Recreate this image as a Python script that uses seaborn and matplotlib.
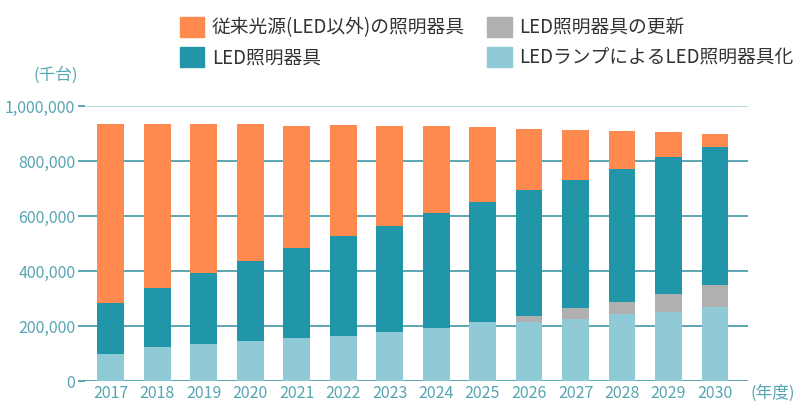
import numpy as np
import matplotlib
matplotlib.use("Agg")
import matplotlib.pyplot as plt
import matplotlib.patches as mpatches
import seaborn as sns

# data (thousand units)
years = ["2017", "2018", "2019", "2020", "2021", "2022", "2023",
         "2024", "2025", "2026", "2027", "2028", "2029", "2030"]
led_lamp = [99, 124, 136, 145, 158, 164, 179, 191, 213, 216, 224, 244, 252, 270]
led_update = [0, 0, 0, 0, 0, 0, 0, 0, 3, 21, 40, 44, 64, 78]
led_fixture = [186, 215, 258, 291, 326, 363, 385, 419, 436, 457, 467, 484, 497, 502]
conventional = [650, 596, 541, 499, 443, 405, 363, 318, 273, 224, 182, 137, 91, 50]

labels = ["従来光源(LED以外)の照明器具", "LED照明器具",
          "LED照明器具の更新", "LEDランプによるLED照明器具化"]
colors = ["#FF8A50", "#2196A8", "#B0B0B0", "#8FCAD6"]
y_ticks = [0, 200000, 400000, 600000, 800000, 1000000]

sns.set_theme(style="white")
plt.rcParams["font.family"] = ["Noto Sans CJK JP", "DejaVu Sans"]

teal_text = "#55A5B2"
grid_col = "#3D97A5"

fig = plt.figure(figsize=(7.97, 4.03), dpi=100)
ax = fig.add_axes([85 / 797, 1 - 381 / 403, (748 - 85) / 797, (381 - 106) / 403])

# stack order bottom -> top
series = [
    (np.array(led_lamp) * 1000, colors[3]),
    (np.array(led_update) * 1000, colors[2]),
    (np.array(led_fixture) * 1000, colors[1]),
    (np.array(conventional) * 1000, colors[0]),
]
bottom = np.zeros(len(years))
for vals, col in series:
    sns.barplot(x=years, y=vals, bottom=bottom, color=col, width=0.58,
                saturation=1, linewidth=0, ax=ax, zorder=3)
    bottom = bottom + vals

ax.set_ylim(0, 1000000)
ax.set_xlim(-0.55, 13.71)
ax.set_yticks(y_ticks)
ax.set_yticklabels([f"{v:,}" for v in y_ticks])
ax.yaxis.grid(True, color=grid_col, linewidth=1.2, zorder=0)
ax.get_ygridlines()[-1].set_color("#A6D3DA")
ax.set_axisbelow(True)
for s in ax.spines.values():
    s.set_visible(False)
ax.tick_params(axis="y", length=5, width=1.2, color=grid_col, colors=teal_text,
               labelsize=11.5, pad=2, left=True)
ax.tick_params(axis="y", color=grid_col)
ax.tick_params(axis="x", length=0, colors=teal_text, labelsize=11.5, pad=3)
ax.set_xlabel("")
ax.set_ylabel("")

fig.text(56 / 797, 1 - 75 / 403, "(千台)", color=teal_text, fontsize=12,
         ha="center", va="center")
fig.text(773 / 797, 1 - 393 / 403, "(年度)", color=teal_text, fontsize=12,
         ha="center", va="center")

handles = [mpatches.Patch(color=c, label=l) for c, l in zip(colors, labels)]
fig.legend(handles=handles, ncol=2, loc="upper left",
           bbox_to_anchor=(163 / 797, 1 - 0 / 403), frameon=False,
           fontsize=13.5, handlelength=1.3, handleheight=1.3,
           handletextpad=0.4, columnspacing=1.2, labelspacing=0.45,
           labelcolor="#333333")

fig.savefig("out.png", dpi=100)
